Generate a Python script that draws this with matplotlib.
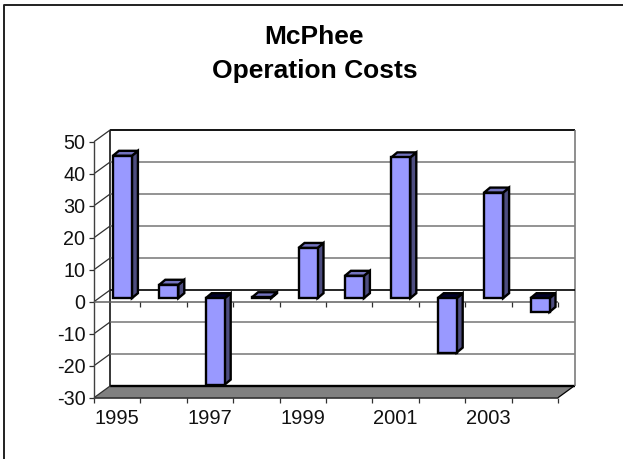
import matplotlib
matplotlib.use('Agg')
import matplotlib.pyplot as plt
from matplotlib.lines import Line2D
from matplotlib.patches import Polygon, Rectangle

plt.rcParams['font.family'] = ['Liberation Sans', 'DejaVu Sans']
plt.rcParams['axes.unicode_minus'] = False

years = [1995, 1996, 1997, 1998, 1999, 2000, 2001, 2002, 2003, 2004]
costs = [44.5, 4.2, -27.0, 0.3, 15.7, 7.0, 44.0, -17.0, 33.0, -4.3]
y_ticks = [-30, -20, -10, 0, 10, 20, 30, 40, 50]
x_labels = ['1995', '', '1997', '', '1999', '', '2001', '', '2003', '']

W, H = 623, 459
fig = plt.figure(figsize=(W / 100, H / 100), dpi=100)

# front plane of the fake 3d box, in pixels
left, right, top, bottom = 94, 558, 141.7, 397.7
ax = fig.add_axes([left / W, 1 - bottom / H, (right - left) / W, (bottom - top) / H])
ax.set_xlim(0, len(years))
ax.set_ylim(-30, 50)
ax.patch.set_visible(False)

px = len(years) / (right - left)  # data units per pixel
py = 80 / (bottom - top)
wall_dx, wall_dy = 16.5 * px, 12 * py
bar_dx, bar_dy = 5.2 * px, 3.5 * py
depth_dx, depth_dy = 6 * px, 5 * py
bar_w = 19 * px

for s in ['top', 'right', 'bottom']:
    ax.spines[s].set_visible(False)
ax.spines['left'].set_color('#404040')
ax.spines['left'].set_linewidth(1)

ax.set_yticks(y_ticks)
ax.tick_params(axis='y', length=3.6, width=0.9, color='#303030', labelsize=14.2, pad=2.6,
               labelcolor='#111111')
ax.set_xticks(range(len(years) + 1))
ax.set_xticklabels([''] * (len(years) + 1))
ax.tick_params(axis='x', length=3.6, width=0.9, color='#303030')
n = len(years)
for i, lab in enumerate(x_labels):
    ax.annotate(lab, (i + 0.5, -30), xytext=(0, -21), textcoords='offset pixels', ha='center',
                va='center', fontsize=14.5, color='#111111', annotation_clip=False)


def line(xs, ys, color, lw, z=2):
    ax.plot(xs, ys, color=color, lw=lw, zorder=z, clip_on=False, solid_capstyle='butt')


# floor
ax.add_patch(Polygon([(0, -30), (n, -30), (n + wall_dx, -30 + wall_dy), (wall_dx, -30 + wall_dy)],
                     fc='#808080', ec='none', zorder=1, clip_on=False))
line([0, n], [-30, -30], '#202020', 1.1)
line([wall_dx, n + wall_dx], [-30 + wall_dy] * 2, 'black', 1.7)
line([n, n + wall_dx], [-30, -30 + wall_dy], 'black', 0.9)
# walls
line([wall_dx, wall_dx], [-30 + wall_dy, 50 + wall_dy], 'black', 1.1)
line([wall_dx, n + wall_dx], [50 + wall_dy] * 2, 'black', 1.3)
line([n + wall_dx] * 2, [-30 + wall_dy, 50 + wall_dy], '#707070', 1.1)
for v in y_ticks[1:-1]:
    line([wall_dx, n + wall_dx], [v + wall_dy] * 2, 'black' if v == 0 else '#808080', 1.2)
for v in y_ticks:
    line([0, wall_dx], [v, v + wall_dy], '#303030', 0.9)

# front zero line with its ticks
line([0, n], [0, 0], '#606060', 1.1, 3)
for i in range(1, n + 1):
    line([i, i], [0, -1.5], '#303030', 0.9, 3)

# bars
ec = dict(ec='black', lw=1.7, joinstyle='miter', clip_on=False)
for i, v in enumerate(costs):
    x0 = i + 0.5 + bar_dx - bar_w / 2
    x1 = x0 + bar_w
    y0 = bar_dy
    y1 = v + bar_dy
    hi, lo = max(y0, y1), min(y0, y1)
    ax.add_patch(Polygon([(x1, lo), (x1 + depth_dx, lo + depth_dy),
                          (x1 + depth_dx, hi + depth_dy), (x1, hi)],
                         fc='#4d4d80', zorder=4, **ec))
    ax.add_patch(Polygon([(x0, hi), (x1, hi), (x1 + depth_dx, hi + depth_dy),
                          (x0 + depth_dx, hi + depth_dy)],
                         fc='#00002a' if v < 0 else '#7373bf', zorder=4, **ec))
    ax.add_patch(Rectangle((x0, lo), bar_w, hi - lo, fc='#9999ff', zorder=5, **ec))

# title and the left/top chart border
fig.text(314 / W, 1 - 36.5 / H, 'McPhee', ha='center', va='center', fontsize=19,
         fontweight='bold', color='black')
fig.text(314.5 / W, 1 - 71 / H, 'Operation Costs', ha='center', va='center', fontsize=19,
         fontweight='bold', color='black')
fig.add_artist(Line2D([3.5 / W, 3.5 / W, 1], [0, 1 - 4.5 / H, 1 - 4.5 / H],
                      transform=fig.transFigure, color='#202020', lw=1.4))

fig.savefig('out.png', dpi=100)
